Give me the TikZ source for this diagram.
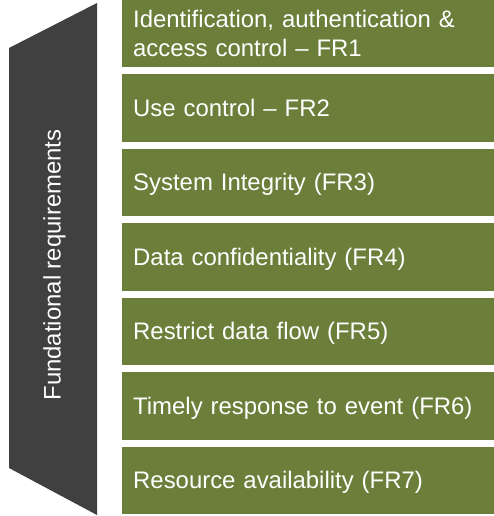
\documentclass[tikz,border=0pt]{standalone}
\usepackage{fontspec}
\setmainfont{Liberation Sans}
\definecolor{frgreen}{RGB}{107,127,58}
\definecolor{frgrey}{RGB}{64,64,64}
\begin{document}
\begin{tikzpicture}[x=1bp,y=-1bp,
		frbox/.style={fill=frgreen, text=white, anchor=north west, minimum width=372bp, minimum height=67.5bp, inner xsep=11bp, text width=350bp, align=left, font=\fontsize{24}{30}\selectfont},
		frline/.style={frbox, text height=17bp, text depth=0bp}]
			\useasboundingbox (0,0) rectangle (494,516);
			
			\fill[frgrey] (9,48) -- (97,3) -- (97,515) -- (9,468) -- cycle;
			\node[rotate=90, text=white, text height=17bp, text depth=0bp, font=\fontsize{24}{30}\selectfont] (fund) at (52,265) {Fundational requirements};
			
			\node[frbox] (fr1) at (122,-0.5) {Identification, authentication \&\\access control -- FR1};
			\node[frline] (fr2) at (122,74) {Use control -- FR2};
			\node[frline] (fr3) at (122,148.5) {System Integrity (FR3)};
			\node[frline] (fr4) at (122,223) {Data confidentiality (FR4)};
			\node[frline] (fr5) at (122,297.5) {Restrict data flow (FR5)};
			\node[frline] (fr6) at (122,372) {Timely response to event (FR6)};
			\node[frline] (fr7) at (122,446.5) {Resource availability (FR7)};
		\end{tikzpicture}
\end{document}
